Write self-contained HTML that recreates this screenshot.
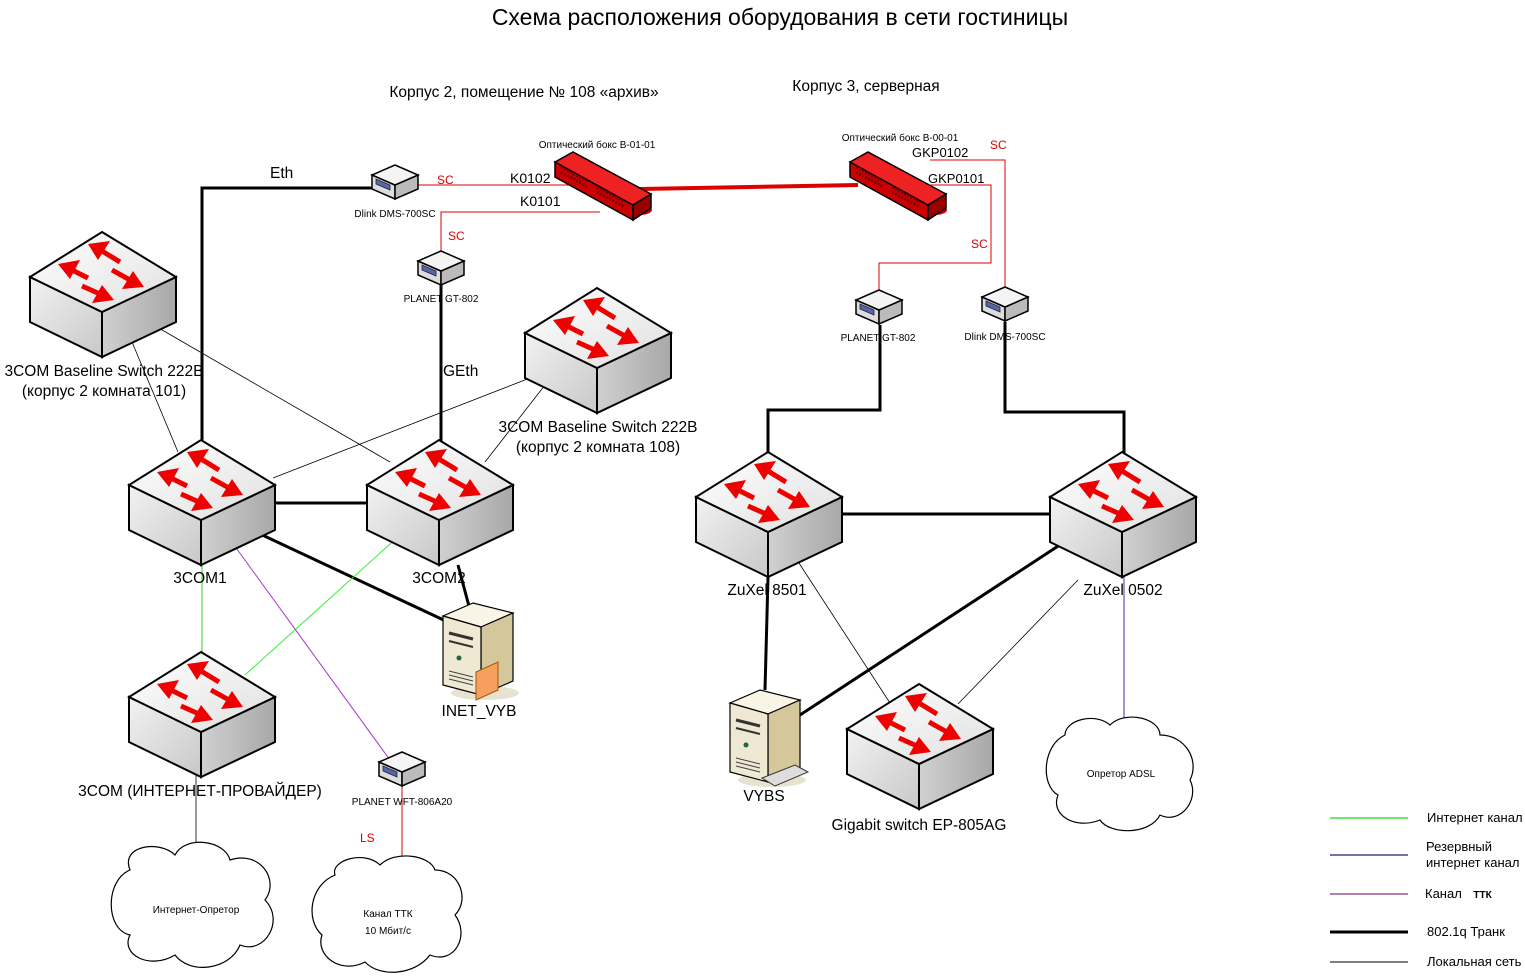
<!DOCTYPE html>
<html><head><meta charset="utf-8"><style>
html,body{margin:0;padding:0;background:#fff;}
svg{display:block;}
text{font-family:"Liberation Sans","DejaVu Sans",sans-serif;}
</style></head><body>
<svg width="1525" height="979" viewBox="0 0 1525 979" xmlns="http://www.w3.org/2000/svg">
<defs>
<linearGradient id="gl" x1="0" y1="0" x2="1" y2="1"><stop offset="0" stop-color="#f2f2f2"/><stop offset="1" stop-color="#c8c8c8"/></linearGradient>
<linearGradient id="gr" x1="0" y1="0" x2="1" y2="0"><stop offset="0" stop-color="#d0d0d0"/><stop offset="1" stop-color="#a8a8a8"/></linearGradient>
<linearGradient id="gt" x1="0" y1="0" x2="1" y2="1"><stop offset="0" stop-color="#ffffff"/><stop offset="1" stop-color="#e0e0e0"/></linearGradient>
<linearGradient id="srv" x1="0" y1="0" x2="1" y2="0"><stop offset="0" stop-color="#f3ecd6"/><stop offset="1" stop-color="#d8caa0"/></linearGradient>
<symbol id="sw" viewBox="0 0 146 125" width="146" height="125" overflow="visible">
 <polygon points="0,45 72,80 72,125 0,90" fill="url(#gl)" stroke="#000" stroke-width="2"/>
 <polygon points="72,80 146,45 146,90 72,125" fill="url(#gr)" stroke="#000" stroke-width="2"/>
 <polygon points="72,0 146,45 72,80 0,45" fill="url(#gt)" stroke="#000" stroke-width="2"/>
 <g stroke="#e00" stroke-width="5" fill="#e00">
  <line x1="90" y1="30" x2="72" y2="19"/><polygon stroke="none" points="58,12 80,9 68,28"/>
  <line x1="58" y1="46" x2="42" y2="38"/><polygon stroke="none" points="28,32 50,28 40,47"/>
  <line x1="82" y1="38" x2="100" y2="48"/><polygon stroke="none" points="114,55 92,57 103,39"/>
  <line x1="52" y1="54" x2="70" y2="62"/><polygon stroke="none" points="84,68 62,71 72,53"/>
 </g>
</symbol>
<symbol id="mc" viewBox="0 0 46 36" width="46" height="36" overflow="visible">
 <polygon points="0,12 23,22 23,36 0,26" fill="#ddd" stroke="#000" stroke-width="1.5"/>
 <polygon points="23,22 46,12 46,26 23,36" fill="#bbb" stroke="#000" stroke-width="1.5"/>
 <polygon points="23,2 46,12 23,22 0,12" fill="#f4f4f4" stroke="#000" stroke-width="1.5"/>
 <polygon points="4,16 18,22 18,27 4,21" fill="#5566aa" stroke="#223" stroke-width="0.8"/>
</symbol>
<symbol id="ob" viewBox="0 0 100 75" width="100" height="75" overflow="visible">
 <ellipse cx="85" cy="60" rx="12" ry="5" fill="#c00"/>
 <polygon points="0,12 78,55 78,70 0,27" fill="#c00" stroke="#000" stroke-width="1.5"/>
 <polygon points="78,55 96,44 96,58 78,70" fill="#900" stroke="#000" stroke-width="1.5"/>
 <polygon points="0,12 18,2 96,44 78,55" fill="#e22" stroke="#000" stroke-width="1.5"/>
 <g fill="none" stroke="#700" stroke-width="3" stroke-dasharray="2,1.5">
  <line x1="6" y1="17" x2="32" y2="31"/><line x1="6" y1="22" x2="32" y2="36"/>
  <line x1="42" y1="37" x2="70" y2="52"/><line x1="42" y1="42" x2="70" y2="57"/>
 </g>
</symbol>
<symbol id="srvA" viewBox="0 0 76 98" width="76" height="98" overflow="visible">
 <ellipse cx="42" cy="90" rx="34" ry="7" fill="#e8e2d0"/>
 <polygon points="0,13 30,0 70,10 38,24" fill="#f8f4e6" stroke="#000" stroke-width="1.2"/>
 <polygon points="38,24 70,10 70,78 38,92" fill="#d5c79c" stroke="#000" stroke-width="1.2"/>
 <polygon points="0,13 38,24 38,92 0,82" fill="#efe8d2" stroke="#000" stroke-width="1.2"/>
 <line x1="6" y1="30" x2="30" y2="36" stroke="#333" stroke-width="3"/>
 <line x1="6" y1="38" x2="30" y2="44" stroke="#333" stroke-width="2"/>
 <circle cx="16" cy="55" r="2.5" fill="#264"/>
 <line x1="6" y1="68" x2="30" y2="74" stroke="#444" stroke-width="1"/>
 <line x1="6" y1="72" x2="30" y2="78" stroke="#444" stroke-width="1"/>
 <line x1="6" y1="76" x2="30" y2="82" stroke="#444" stroke-width="1"/>
</symbol>
</defs>

<text x="780" y="25" font-size="23" text-anchor="middle">Схема расположения оборудования в сети гостиницы</text>
<text x="524" y="97" font-size="15.5" text-anchor="middle">Корпус 2, помещение № 108 «архив»</text>
<text x="866" y="91" font-size="15.5" text-anchor="middle">Корпус 3, серверная</text>

<g stroke="#d00" fill="none" stroke-width="1">
 <polyline points="418,185 575,185"/>
 <polyline points="441,258 441,212 600,212"/>
 <polyline points="930,160 1005,160 1005,292"/>
 <polyline points="915,185 991,185 991,263 879,263 879,296"/>
</g>
<line x1="640" y1="189" x2="858" y2="185" stroke="#d00" stroke-width="4"/>

<g stroke="#000" stroke-width="3" fill="none">
 <polyline points="374,188 202,188 202,445"/>
 <line x1="441" y1="285" x2="441" y2="445"/>
 <line x1="273" y1="503" x2="367" y2="503"/>
 <line x1="258" y1="533" x2="450" y2="623"/>
 <line x1="458" y1="565" x2="470" y2="610"/>
 <polyline points="880,325 880,410 768,410 768,458"/>
 <polyline points="1005,322 1005,412 1124,412 1124,458"/>
 <line x1="840" y1="514" x2="1050" y2="514"/>
 <line x1="768" y1="577" x2="765" y2="690"/>
 <line x1="1075" y1="535" x2="800" y2="715"/>
</g>
<g stroke="#000" stroke-width="0.8" fill="none">
 <line x1="127" y1="330" x2="178" y2="452"/>
 <line x1="157" y1="327" x2="390" y2="462"/>
 <line x1="273" y1="478" x2="530" y2="378"/>
 <line x1="485" y1="462" x2="545" y2="385"/>
 <line x1="196" y1="775" x2="196" y2="860"/>
 <line x1="797" y1="560" x2="890" y2="703"/>
 <line x1="1078" y1="580" x2="958" y2="704"/>
</g>
<line x1="202" y1="565" x2="202" y2="655" stroke="#3c3" stroke-width="1"/>
<line x1="400" y1="535" x2="245" y2="675" stroke="#3e3" stroke-width="1"/>
<line x1="234" y1="545" x2="390" y2="760" stroke="#a3c" stroke-width="1"/>
<line x1="402" y1="787" x2="402" y2="866" stroke="#d00" stroke-width="1"/>
<line x1="1124" y1="577" x2="1124" y2="722" stroke="#33a" stroke-width="1"/>

<use href="#sw" x="30" y="232"/>
<use href="#sw" x="525" y="288"/>
<use href="#sw" x="129" y="440"/>
<use href="#sw" x="367" y="440"/>
<use href="#sw" x="129" y="652"/>
<use href="#sw" x="696" y="452"/>
<use href="#sw" x="1050" y="452"/>
<use href="#sw" x="847" y="684"/>

<use href="#mc" x="372" y="163"/>
<use href="#mc" x="418" y="249"/>
<use href="#mc" x="856" y="288"/>
<use href="#mc" x="982" y="285"/>
<use href="#mc" x="379" y="750"/>

<use href="#ob" x="555" y="150"/>
<use href="#ob" x="850" y="150"/>

<use href="#srvA" x="443" y="603"/>
<polygon points="476,672 498,662 498,690 476,700" fill="#f6a060" stroke="#a50"/>
<use href="#srvA" x="730" y="690"/>
<polygon points="762,778 795,765 808,772 775,786" fill="#ddd" stroke="#333"/>

<g fill="#fff" stroke="#000" stroke-width="1.2">
 <path d="M130,870 C120,845 160,840 175,855 C185,835 225,840 230,860 C260,850 280,880 265,900 C285,920 265,955 240,945 C230,970 190,975 175,955 C150,970 120,955 130,935 C105,930 105,880 130,870 Z"/>
 <path d="M335,875 C330,860 365,850 380,865 C395,850 430,855 435,870 C460,870 470,900 455,915 C470,935 455,965 430,955 C415,975 380,978 365,962 C340,975 315,955 322,935 C305,920 310,885 335,875 Z"/>
 <path d="M1065,735 C1065,720 1095,712 1110,725 C1125,710 1160,718 1160,735 C1185,735 1200,760 1190,780 C1200,800 1180,825 1160,815 C1150,835 1110,835 1100,820 C1075,830 1050,815 1058,795 C1040,785 1043,745 1065,735 Z"/>
</g>

<g font-size="15.5">
<text x="270" y="178">Eth</text>
<text x="443" y="376">GEth</text>
<text x="104" y="376" text-anchor="middle">3COM Baseline Switch 222B</text>
<text x="104" y="396" text-anchor="middle">(корпус 2 комната 101)</text>
<text x="598" y="432" text-anchor="middle">3COM Baseline Switch 222B</text>
<text x="598" y="452" text-anchor="middle">(корпус 2 комната 108)</text>
<text x="200" y="583" text-anchor="middle">3COM1</text>
<text x="439" y="583" text-anchor="middle">3COM2</text>
<text x="479" y="716" text-anchor="middle">INET_VYB</text>
<text x="200" y="796" text-anchor="middle">3COM (ИНТЕРНЕТ-ПРОВАЙДЕР)</text>
<text x="767" y="595" text-anchor="middle">ZuXel 8501</text>
<text x="1123" y="595" text-anchor="middle">ZuXel 0502</text>
<text x="764" y="801" text-anchor="middle">VYBS</text>
<text x="919" y="830" text-anchor="middle">Gigabit switch EP-805AG</text>
</g>
<g font-size="14">
<text x="510" y="183">K0102</text>
<text x="520" y="206">K0101</text>
<text x="912" y="157" font-size="13">GKP0102</text>
<text x="928" y="183" font-size="13">GKP0101</text>
</g>
<g font-size="12" fill="#d00">
<text x="437" y="184">SC</text>
<text x="448" y="240">SC</text>
<text x="990" y="149">SC</text>
<text x="971" y="248">SC</text>
<text x="360" y="842">LS</text>
</g>
<g font-size="10">
<text x="395" y="217" text-anchor="middle">Dlink DMS-700SC</text>
<text x="441" y="302" text-anchor="middle">PLANET GT-802</text>
<text x="878" y="341" text-anchor="middle">PLANET GT-802</text>
<text x="1005" y="340" text-anchor="middle">Dlink DMS-700SC</text>
<text x="402" y="805" text-anchor="middle">PLANET WFT-806A20</text>
<text x="597" y="148" text-anchor="middle">Оптический бокс В-01-01</text>
<text x="900" y="141" text-anchor="middle">Оптический бокс В-00-01</text>
<text x="196" y="913" text-anchor="middle">Интернет-Опретор</text>
<text x="388" y="917" text-anchor="middle">Канал ТТК</text>
<text x="388" y="934" text-anchor="middle">10 Мбит/с</text>
<text x="1121" y="777" text-anchor="middle">Опретор ADSL</text>
</g>

<line x1="1330" y1="818" x2="1408" y2="818" stroke="#4d4" stroke-width="1.5"/>
<line x1="1330" y1="855" x2="1408" y2="855" stroke="#448" stroke-width="1.5"/>
<line x1="1330" y1="894" x2="1408" y2="894" stroke="#606" stroke-width="1"/>
<line x1="1330" y1="932" x2="1408" y2="932" stroke="#000" stroke-width="3"/>
<line x1="1330" y1="962" x2="1408" y2="962" stroke="#000" stroke-width="1"/>
<g font-size="13">
<text x="1427" y="822">Интернет канал</text>
<text x="1426" y="851">Резервный</text>
<text x="1426" y="867">интернет канал</text>
<text x="1425" y="898">Канал <tspan font-weight="bold" font-size="10" dx="8">ТТК</tspan></text>
<text x="1427" y="936">802.1q Транк</text>
<text x="1427" y="966">Локальная сеть</text>
</g>
</svg>
</body></html>
